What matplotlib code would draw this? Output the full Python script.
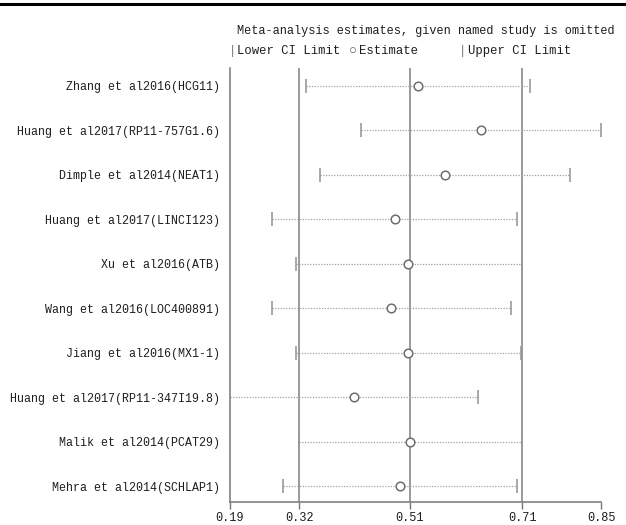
import matplotlib
matplotlib.use("Agg")
import matplotlib.pyplot as plt
from matplotlib.lines import Line2D

# studies omitted one at a time (top to bottom)
studies = ["Zhang et al2016(HCG11)",
           "Huang et al2017(RP11-757G1.6)",
           "Dimple et al2014(NEAT1)",
           "Huang et al2017(LINCI123)",
           "Xu et al2016(ATB)",
           "Wang et al2016(LOC400891)",
           "Jiang et al2016(MX1-1)",
           "Huang et al2017(RP11-347I19.8)",
           "Malik et al2014(PCAT29)",
           "Mehra et al2014(SCHLAP1)"]
estimate = [0.524, 0.637, 0.573, 0.484, 0.507, 0.477, 0.506, 0.411, 0.510, 0.493]
lower = [0.326, 0.423, 0.350, 0.265, 0.307, 0.265, 0.307, 0.190, 0.313, 0.284]
upper = [0.723, 0.850, 0.794, 0.701, 0.709, 0.689, 0.707, 0.631, 0.710, 0.701]

tick_vals = [0.19, 0.313, 0.51, 0.71, 0.85]
tick_labels = ["0.19", "0.32", "0.51", "0.71", "0.85"]
ref_lines = [0.313, 0.51, 0.71]

FONT = "Liberation Mono"
plt.rcParams['font.family'] = [FONT, 'DejaVu Sans']
TXT = "#1e1e1e"

fig = plt.figure(figsize=(6.26, 5.25), dpi=100)
ax = fig.add_axes([0.3674, 0.0438, 0.5927, 0.8267])

for x in ref_lines:
    ax.axvline(x, color="#8a8a8a", lw=1.2, zorder=1)

ys = list(range(len(studies)))
for y, lo, est, hi in zip(ys, lower, estimate, upper):
    ax.plot([lo, hi], [y, y], color="#a0a0a0", lw=0.9,
            linestyle=(0, (1, 1.2)), zorder=2)
ax.plot(lower, ys, linestyle="none", marker="|", ms=9.5, mew=1.2,
        color="#999999", zorder=3)
ax.plot(upper, ys, linestyle="none", marker="|", ms=9.5, mew=1.2,
        color="#999999", zorder=3)
ax.plot(estimate, ys, linestyle="none", marker="o", ms=6.2, mew=1.1,
        mfc="white", mec="#6e6e6e", zorder=4)

ax.set_xlim(0.19, 0.85)
ax.set_ylim(9.35, -0.4)
ax.set_yticks(ys)
ax.set_yticklabels(studies, fontsize=8.4, color=TXT)
ax.tick_params(axis="y", length=0, pad=7)
ax.set_xticks(tick_vals)
ax.set_xticklabels(tick_labels, fontsize=8.6, color=TXT)
ax.tick_params(axis="x", length=5, width=1, color="#777777", pad=2)

for s in ["top", "right"]:
    ax.spines[s].set_visible(False)
for s in ["left", "bottom"]:
    ax.spines[s].set_color("#777777")
    ax.spines[s].set_linewidth(1.1)

# title and legend row
fig.text(0.681, 0.941, "Meta-analysis estimates, given named study is omitted",
         ha="center", va="center", fontsize=8.6, color=TXT)
leg_y = 0.902
fig.text(0.3722, leg_y, "|", ha="center", va="center", fontsize=8.8,
         color="#777777")
fig.text(0.379, leg_y, "Lower CI Limit", ha="left", va="center",
         fontsize=8.8, color=TXT)
fig.text(0.564, leg_y, "\u25cb", ha="center", va="center", fontsize=9.5,
         color="#555555")
fig.text(0.573, leg_y, "Estimate", ha="left", va="center",
         fontsize=8.8, color=TXT)
fig.text(0.7396, leg_y, "|", ha="center", va="center", fontsize=8.8,
         color="#777777")
fig.text(0.747, leg_y, "Upper CI Limit", ha="left", va="center",
         fontsize=8.8, color=TXT)

# black border line at the top of the image
fig.add_artist(Line2D([0, 1], [0.993, 0.993], color="black", lw=2.2,
                      transform=fig.transFigure))

fig.savefig("out.png", dpi=100)
